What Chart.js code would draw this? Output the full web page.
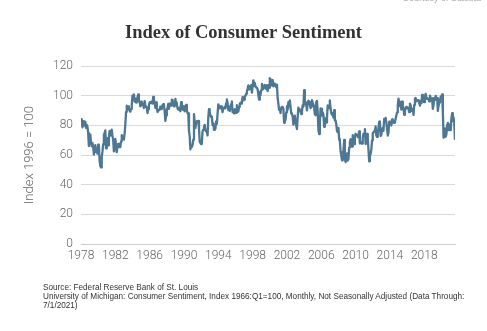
<!DOCTYPE html>
<html>
<head>
<meta charset="utf-8">
<script src="https://cdn.jsdelivr.net/npm/chart.js@4.4.1/dist/chart.umd.min.js"></script>
<style>
  html, body { margin: 0; padding: 0; background: #ffffff; }
  #wrap { position: relative; width: 487px; height: 331px; overflow: hidden; }
  canvas { position: absolute; left: 0; top: 0; }
  #source { position: absolute; left: 43px; top: 283px; font-family: "Liberation Sans", Arial, sans-serif; font-size: 8.2px; line-height: 9px; color: #333; white-space: nowrap; }
  #courtesy { position: absolute; right: 6px; top: -7px; font-family: "Liberation Sans", Arial, sans-serif; font-size: 9px; color: #aaa; }
</style>
</head>
<body>
<div id="wrap">
  <canvas id="c" width="487" height="331"></canvas>
  <div id="courtesy">Courtesy of Statista</div>
  <div id="source">Source: Federal Reserve Bank of St. Louis<br>University of Michigan: Consumer Sentiment, Index 1966:Q1=100, Monthly, Not Seasonally Adjusted (Data Through:<br>7/1/2021)</div>
</div>
<script>
// ---- DATA ----
const startYear = 1978;                 // first month: January 1978
const yearTicks = [1978, 1982, 1986, 1990, 1994, 1998, 2002, 2006, 2010, 2014, 2018];
const yTicks = [0, 20, 40, 60, 80, 100, 120];
// Monthly index values, Jan 1978 onward
const sentiment = [
  83.7, 84.3, 78.8, 81.6, 82.9, 80.0, 82.4, 78.4, 80.4, 79.3, 75.0, 66.1, // 1978
  72.1, 73.9, 68.4, 66.0, 68.1, 65.8, 60.4, 64.5, 66.7, 62.1, 63.3, 61.0, // 1979
  67.0, 66.9, 56.5, 52.7, 51.7, 58.7, 62.3, 67.4, 73.7, 75.0, 76.7, 64.5, // 1980
  71.4, 66.9, 66.5, 72.4, 76.3, 73.1, 74.1, 77.2, 73.1, 70.3, 62.5, 64.3, // 1981
  71.0, 66.5, 62.0, 65.5, 67.5, 65.7, 65.4, 65.4, 69.3, 73.4, 72.1, 71.9, // 1982
  70.4, 74.6, 80.8, 89.1, 93.3, 92.2, 92.8, 90.9, 89.9, 89.3, 91.1, 94.2, // 1983
  100.1, 97.4, 101.0, 96.1, 98.1, 95.5, 96.6, 99.1, 100.9, 96.3, 95.7, 92.9, // 1984
  96.0, 93.7, 93.7, 94.6, 91.8, 96.5, 94.0, 92.4, 92.1, 88.4, 90.9, 93.9, // 1985
  95.6, 95.9, 95.1, 96.2, 94.8, 99.3, 97.7, 94.9, 91.9, 95.6, 91.4, 89.1, // 1986
  90.4, 90.2, 90.8, 92.8, 91.1, 91.5, 93.7, 94.4, 93.6, 89.3, 83.1, 86.8, // 1987
  90.8, 91.6, 94.6, 91.2, 94.8, 94.7, 93.4, 97.4, 97.3, 94.1, 93.0, 92.9, // 1988
  97.9, 95.4, 94.3, 91.5, 90.7, 90.6, 92.0, 89.6, 95.8, 93.9, 90.9, 90.5, // 1989
  93.0, 89.5, 91.3, 93.9, 90.6, 88.3, 88.2, 76.4, 72.8, 63.9, 66.0, 65.5, // 1990
  66.8, 70.4, 87.7, 81.8, 78.3, 82.1, 82.9, 82.0, 83.0, 78.3, 69.1, 68.2, // 1991
  67.5, 68.8, 76.0, 77.2, 79.2, 80.4, 76.6, 76.1, 75.6, 73.3, 85.3, 91.0, // 1992
  89.3, 86.6, 85.9, 85.6, 80.3, 81.5, 77.0, 77.3, 77.9, 82.7, 81.2, 88.2, // 1993
  94.3, 93.2, 91.5, 92.6, 92.8, 91.2, 89.0, 91.7, 91.5, 92.7, 91.6, 95.1, // 1994
  97.6, 95.1, 90.3, 92.5, 89.8, 92.7, 94.4, 96.2, 88.9, 90.2, 88.2, 91.0, // 1995
  89.3, 88.5, 93.7, 92.7, 89.4, 92.4, 94.7, 95.3, 94.7, 96.5, 99.2, 96.9, // 1996
  97.4, 99.7, 100.0, 101.4, 103.2, 104.5, 107.1, 104.4, 106.0, 105.6, 107.2, 102.1, // 1997
  106.6, 110.4, 106.5, 108.7, 106.5, 105.6, 105.2, 104.4, 100.9, 97.4, 102.7, 100.5, // 1998
  103.9, 108.1, 105.7, 104.6, 106.8, 107.3, 106.0, 104.5, 107.2, 103.2, 107.2, 105.4, // 1999
  112.0, 111.3, 107.1, 109.2, 110.7, 106.4, 108.3, 107.3, 106.8, 105.8, 107.6, 98.4, // 2000
  94.7, 90.6, 91.5, 88.4, 92.0, 92.6, 92.4, 91.5, 81.8, 82.7, 83.9, 88.8, // 2001
  93.0, 90.7, 95.7, 93.0, 96.9, 92.4, 88.1, 87.6, 86.1, 80.6, 84.2, 86.7, // 2002
  82.4, 79.9, 77.6, 86.0, 92.1, 89.7, 90.9, 89.3, 87.7, 89.6, 93.7, 92.6, // 2003
  103.8, 94.4, 95.8, 94.2, 90.2, 95.6, 96.7, 95.9, 94.2, 91.7, 92.8, 97.1, // 2004
  95.5, 94.1, 92.6, 87.7, 86.9, 96.0, 96.5, 89.1, 76.9, 74.2, 81.6, 91.5, // 2005
  91.2, 86.7, 88.9, 87.4, 79.1, 84.9, 84.7, 82.0, 85.4, 93.6, 92.1, 91.7, // 2006
  96.9, 91.3, 88.4, 87.1, 88.3, 85.3, 90.4, 83.4, 83.4, 80.9, 76.1, 75.5, // 2007
  78.4, 70.8, 69.5, 62.6, 59.8, 56.4, 61.2, 63.0, 70.3, 57.6, 55.3, 60.1, // 2008
  61.2, 56.3, 57.3, 65.1, 68.7, 70.8, 66.0, 65.7, 73.5, 70.6, 67.4, 72.5, // 2009
  74.4, 73.6, 73.6, 72.2, 73.6, 76.0, 67.8, 68.9, 68.2, 67.7, 71.6, 74.5, // 2010
  74.2, 77.5, 67.5, 69.8, 74.3, 71.5, 63.7, 55.8, 59.5, 60.8, 63.7, 69.9, // 2011
  75.0, 75.3, 76.2, 76.4, 79.3, 73.2, 72.3, 74.3, 78.3, 82.6, 82.7, 72.9, // 2012
  73.8, 77.6, 78.6, 76.4, 84.5, 84.1, 85.1, 82.1, 77.5, 73.2, 75.1, 82.5, // 2013
  81.2, 81.6, 80.0, 84.1, 81.9, 82.5, 81.8, 82.5, 84.6, 86.9, 88.8, 93.6, // 2014
  98.1, 95.4, 93.0, 95.9, 90.7, 96.1, 93.1, 91.9, 87.2, 90.0, 91.3, 92.6, // 2015
  92.0, 91.7, 91.0, 89.0, 94.7, 93.5, 90.0, 89.8, 91.2, 87.2, 93.8, 98.2, // 2016
  98.5, 96.3, 96.9, 97.0, 97.1, 95.0, 93.4, 96.8, 95.1, 100.7, 98.5, 95.9, // 2017
  95.7, 99.7, 101.4, 98.8, 98.0, 98.2, 97.9, 96.2, 100.1, 98.6, 97.5, 98.3, // 2018
  91.2, 93.8, 98.4, 97.2, 100.0, 98.2, 98.4, 89.8, 93.2, 95.5, 96.8, 99.3, // 2019
  99.8, 101.0, 89.1, 71.8, 72.3, 78.1, 72.5, 74.1, 80.4, 81.8, 76.9, 80.7, // 2020
  79.0, 76.8, 84.9, 88.3, 82.9, 85.5, 81.2, 70.3                          // 2021
];

// ---- CHART ----
const points = sentiment.map((v, i) => ({ x: startYear + i / 12, y: v }));
const tickFont = { family: "Roboto, 'Open Sans', sans-serif", size: 12, weight: '300' };

new Chart(document.getElementById('c'), {
  type: 'line',
  data: {
    datasets: [{
      data: points,
      borderColor: '#4d7792',
      borderWidth: 2.3,
      pointRadius: 0,
      tension: 0,
      fill: false,
      borderJoinStyle: 'round'
    }]
  },
  options: {
    responsive: false,
    devicePixelRatio: 1,
    animation: false,
    layout: { padding: { left: 0, right: 0, top: 0, bottom: 60 } },
    plugins: {
      legend: { display: false },
      tooltip: { enabled: false },
      title: {
        display: true,
        text: 'Index of Consumer Sentiment',
        color: '#333333',
        font: { family: "'Liberation Serif', 'DejaVu Serif', serif", size: 18.5, weight: 'bold' },
        padding: { top: 22, bottom: 22 }
      }
    },
    scales: {
      x: {
        type: 'linear',
        min: startYear,
        max: startYear + (sentiment.length - 1) / 12,
        afterBuildTicks: s => { s.ticks = yearTicks.map(v => ({ value: v })); },
        afterFit: s => { s.height = 27; },
        grid: { display: false, drawTicks: false },
        border: { display: true, color: '#cccccc' },
        ticks: {
          autoSkip: false, maxRotation: 0, padding: 5,
          color: '#666666', font: tickFont,
          callback: v => String(v)
        }
      },
      y: {
        min: 0, max: 120,
        afterBuildTicks: s => { s.ticks = yTicks.map(v => ({ value: v })); },
        afterFit: s => { s.width = 81; },
        grid: { color: '#d9d9d9', drawTicks: false, lineWidth: 1 },
        border: { display: false },
        ticks: { padding: 8, color: '#666666', font: tickFont },
        title: {
          display: true,
          text: 'Index 1996 = 100',
          color: '#666666',
          font: { family: "Roboto, 'Open Sans', sans-serif", size: 13, weight: '300' },
          padding: { top: 22, bottom: 0 }
        }
      },
      yRight: {
        type: 'linear',
        position: 'right',
        afterFit: s => { s.width = 32; },
        grid: { display: false, drawTicks: false },
        border: { display: false },
        ticks: { display: false }
      }
    }
  }
});
</script>
</body>
</html>
